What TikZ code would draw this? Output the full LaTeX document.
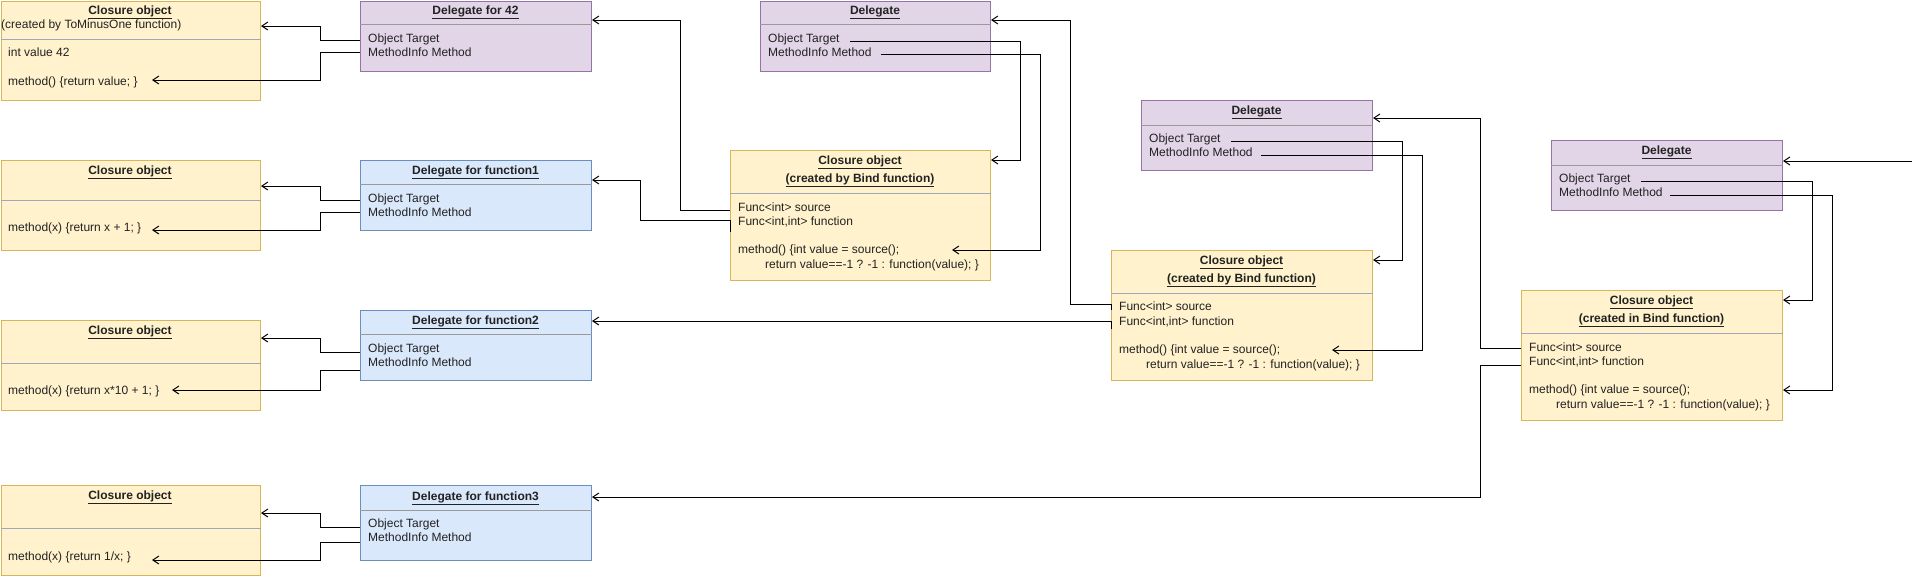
\documentclass[tikz,border=0pt]{standalone}
\usepackage{fontspec}
\setmainfont{Liberation Sans}
\usetikzlibrary{arrows.meta}
\definecolor{yfill}{HTML}{FFF2CC}
\definecolor{ystroke}{HTML}{D6B656}
\definecolor{pfill}{HTML}{E1D5E7}
\definecolor{pstroke}{HTML}{9673A6}
\definecolor{bfill}{HTML}{DAE8FC}
\definecolor{bstroke}{HTML}{6C8EBF}
\definecolor{sepyc}{HTML}{9DA7BE}
\definecolor{sepgc}{HTML}{9A9A9A}
\definecolor{txt}{HTML}{222222}
\newcommand\dfont{\fontsize{12}{14}\selectfont}
\tikzset{
  boxbase/.style={rectangle, line width=1pt, anchor=north west, inner sep=0pt},
  ybox/.style={boxbase, draw=ystroke, fill=yfill},
  pbox/.style={boxbase, draw=pstroke, fill=pfill},
  bbox/.style={boxbase, draw=bstroke, fill=bfill},
  sepy/.style={draw=sepyc, line width=1pt},
  sepg/.style={draw=sepgc, line width=1pt},
  lbl/.style={anchor=west, inner sep=0pt, font=\dfont, text=txt, text height=8.6pt, text depth=2.5pt},
  ttl/.style={anchor=center, inner sep=0pt, font=\dfont\bfseries, text=txt, text height=8.6pt, text depth=2.5pt},
  conn/.style={draw=black, line width=1pt, -{Straight Barb[length=6pt,width=8pt]}},
}
\begin{document}
\begin{tikzpicture}[x=1pt,y=-1pt]
\useasboundingbox (0,0) rectangle (1919,576);

% ---------- left column: closures ----------
\node[ybox,minimum width=259.5pt,minimum height=99.5pt] (c42) at (0.5,0.5) {};
\draw[sepy] (c42.west |- 0,39) -- (c42.east |- 0,39);
\node[ttl] (c42h) at (130,11) {\underline{Closure object}};
\node[lbl] (c42s) at (1,25) {(created by ToMinusOne function)};
\node[lbl] (c42v) at (8,53) {int value 42};
\node[lbl] (c42m) at (8,82) {method() \{return value; \}};

\node[ybox,minimum width=259.5pt,minimum height=90pt] (c1) at (0.5,160) {};
\draw[sepy] (c1.west |- 0,200) -- (c1.east |- 0,200);
\node[ttl] (c1h) at (130,171) {\underline{Closure object}};
\node[lbl] (c1m) at (8,228) {method(x) \{return x + 1; \}};

\node[ybox,minimum width=259.5pt,minimum height=90pt] (c2) at (0.5,320) {};
\draw[sepy] (c2.west |- 0,363) -- (c2.east |- 0,363);
\node[ttl] (c2h) at (130,331) {\underline{Closure object}};
\node[lbl] (c2m) at (8,391) {method(x) \{return x*10 + 1; \}};

\node[ybox,minimum width=259.5pt,minimum height=90pt] (c3) at (0.5,485) {};
\draw[sepy] (c3.west |- 0,528) -- (c3.east |- 0,528);
\node[ttl] (c3h) at (130,496) {\underline{Closure object}};
\node[lbl] (c3m) at (8,557) {method(x) \{return 1/x; \}};

% ---------- left column: delegates ----------
\node[pbox,minimum width=231pt,minimum height=70pt] (d42) at (360,0.5) {};
\draw[sepg] (d42.west |- 0,24) -- (d42.east |- 0,24);
\node[ttl] (d42h) at (475.5,11) {\underline{Delegate for 42}};
\node[lbl] (d42t) at (368,39) {Object Target};
\node[lbl] (d42m) at (368,53) {MethodInfo Method};

\node[bbox,minimum width=231pt,minimum height=70pt] (d1) at (360,160) {};
\draw[sepg] (d1.west |- 0,184) -- (d1.east |- 0,184);
\node[ttl] (d1h) at (475.5,171) {\underline{Delegate for function1}};
\node[lbl] (d1t) at (368,199) {Object Target};
\node[lbl] (d1m) at (368,213) {MethodInfo Method};

\node[bbox,minimum width=231pt,minimum height=70pt] (d2) at (360,310) {};
\draw[sepg] (d2.west |- 0,334) -- (d2.east |- 0,334);
\node[ttl] (d2h) at (475.5,321) {\underline{Delegate for function2}};
\node[lbl] (d2t) at (368,349) {Object Target};
\node[lbl] (d2m) at (368,363) {MethodInfo Method};

\node[bbox,minimum width=231pt,minimum height=75pt] (d3) at (360,485) {};
\draw[sepg] (d3.west |- 0,510) -- (d3.east |- 0,510);
\node[ttl] (d3h) at (475.5,497) {\underline{Delegate for function3}};
\node[lbl] (d3t) at (368,524) {Object Target};
\node[lbl] (d3m) at (368,538) {MethodInfo Method};

% ---------- middle ----------
\node[pbox,minimum width=230pt,minimum height=70pt] (dt) at (760,0.5) {};
\draw[sepg] (dt.west |- 0,24) -- (dt.east |- 0,24);
\node[ttl] (dth) at (875,11) {\underline{Delegate}};
\node[lbl] (dtt) at (768,39) {Object Target};
\node[lbl] (dtm) at (768,53) {MethodInfo Method};

\node[ybox,minimum width=260pt,minimum height=130pt] (b1) at (730,150) {};
\draw[sepy] (b1.west |- 0,193) -- (b1.east |- 0,193);
\node[ttl] (b1h) at (860,161) {\underline{Closure object}};
\node[ttl] (b1s) at (860,179) {\underline{(created by Bind function)}};
\node[lbl] (b1a) at (738,208) {Func<int> source};
\node[lbl] (b1b) at (738,222) {Func<int,int> function};
\node[lbl] (b1m) at (738,250) {method() \{int value = source();};
\node[lbl] (b1r) at (765,265) {return value==-1 ? -1 : function(value); \}};

\node[pbox,minimum width=231pt,minimum height=70pt] (dm) at (1141,100) {};
\draw[sepg] (dm.west |- 0,125) -- (dm.east |- 0,125);
\node[ttl] (dmh) at (1256.5,111) {\underline{Delegate}};
\node[lbl] (dmt) at (1149,139) {Object Target};
\node[lbl] (dmm) at (1149,153) {MethodInfo Method};

\node[ybox,minimum width=261pt,minimum height=130pt] (b2) at (1111,250) {};
\draw[sepy] (b2.west |- 0,293) -- (b2.east |- 0,293);
\node[ttl] (b2h) at (1241.5,261) {\underline{Closure object}};
\node[ttl] (b2s) at (1241.5,279) {\underline{(created by Bind function)}};
\node[lbl] (b2a) at (1119,307) {Func<int> source};
\node[lbl] (b2b) at (1119,322) {Func<int,int> function};
\node[lbl] (b2m) at (1119,350) {method() \{int value = source();};
\node[lbl] (b2r) at (1146,365) {return value==-1 ? -1 : function(value); \}};

% ---------- right ----------
\node[pbox,minimum width=231pt,minimum height=70pt] (dr) at (1551,140) {};
\draw[sepg] (dr.west |- 0,165) -- (dr.east |- 0,165);
\node[ttl] (drh) at (1666.5,151) {\underline{Delegate}};
\node[lbl] (drt) at (1559,179) {Object Target};
\node[lbl] (drm) at (1559,193) {MethodInfo Method};

\node[ybox,minimum width=261pt,minimum height=130pt] (rc) at (1521,290) {};
\draw[sepy] (rc.west |- 0,333) -- (rc.east |- 0,333);
\node[ttl] (rch) at (1651.5,301) {\underline{Closure object}};
\node[ttl] (rcs) at (1651.5,319) {\underline{(created in Bind function)}};
\node[lbl] (rca) at (1529,348) {Func<int> source};
\node[lbl] (rcb) at (1529,362) {Func<int,int> function};
\node[lbl] (rcm) at (1529,390) {method() \{int value = source();};
\node[lbl] (rcr) at (1556,405) {return value==-1 ? -1 : function(value); \}};

% ---------- free-end coordinates ----------
\coordinate (c42mt) at (152,80);
\coordinate (c1mt) at (152,230);
\coordinate (c2mt) at (172,390);
\coordinate (c3mt) at (152,560);
\coordinate (b1mt) at (952,250);
\coordinate (b2mt) at (1332,350);
\coordinate (inr) at (1912,161);

% ---------- connectors: left delegates -> closures ----------
\draw[conn] (d42.west |- 0,40) -- (320,40) |- (c42.east |- 0,26);
\draw[conn] (d42.west |- 0,52) -- (320,52) |- (c42mt);
\draw[conn] (d1.west |- 0,200) -- (320,200) |- (c1.east |- 0,186);
\draw[conn] (d1.west |- 0,212) -- (320,212) |- (c1mt);
\draw[conn] (d2.west |- 0,352) -- (320,352) |- (c2.east |- 0,338);
\draw[conn] (d2.west |- 0,370) -- (320,370) |- (c2mt);
\draw[conn] (d3.west |- 0,527) -- (320,527) |- (c3.east |- 0,513);
\draw[conn] (d3.west |- 0,542) -- (320,542) |- (c3mt);

% ---------- bind closure 1 ----------
\draw[conn] (b1.west |- 0,210) -- (680,210) |- (d42.east |- 0,20);
\draw[conn] (730,232) -- (b1.west |- 0,220) -- (640,220) |- (d1.east |- 0,180);
\draw[conn] (850,41) -- (1020,41) |- (b1.east |- 0,160);
\draw[conn] (881,54) -- (1040,54) |- (b1mt);

% ---------- bind closure 2 ----------
\draw[conn] (1111,310) -- (b2.west |- 0,304) -- (1070,304) |- (dt.east |- 0,20);
\draw[conn] (1111,329) -- (b2.west |- 0,321) -- (d2.east |- 0,321);
\draw[conn] (1231,141) -- (1402,141) |- (b2.east |- 0,260);
\draw[conn] (1261,155) -- (1422,155) |- (b2mt);

% ---------- right closure ----------
\draw[conn] (rc.west |- 0,348) -- (1480,348) |- (dm.east |- 0,118);
\draw[conn] (rc.west |- 0,365) -- (1480,365) |- (d3.east |- 0,497);
\draw[conn] (1641,181) -- (1812,181) |- (rc.east |- 0,300);
\draw[conn] (1670,195) -- (1832,195) |- (rc.east |- 0,390);
\draw[conn] (inr) -- (dr.east |- inr);
\end{tikzpicture}
\end{document}
